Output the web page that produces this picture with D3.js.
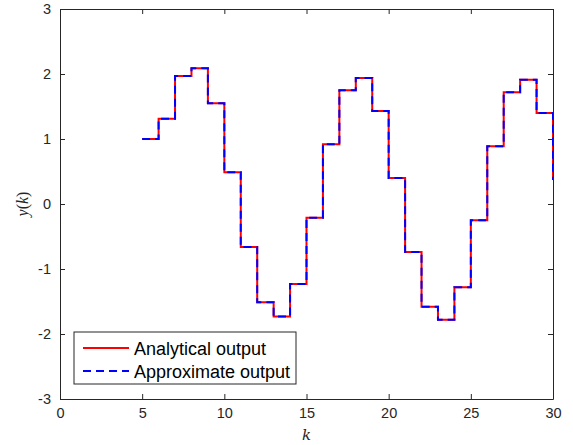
<!DOCTYPE html>
<html>
<head>
<meta charset="utf-8">
<script src="https://cdn.jsdelivr.net/npm/d3@7"></script>
<style>
body { margin: 0; background: #fff; }
text { font-family: "Liberation Sans", Arial, sans-serif; }
</style>
</head>
<body>
<script>
var w = 573;
var h = 445;
var margin = {left: 60, right: 20, top: 9, bottom: 46};

var kValues = [5, 6, 7, 8, 9, 10, 11, 12, 13, 14, 15, 16, 17, 18, 19, 20, 21, 22, 23, 24, 25, 26, 27, 28, 29, 30];
var analytical = [1.00, 1.31, 1.97, 2.09, 1.55, 0.49, -0.66, -1.51, -1.73, -1.23, -0.21, 0.92, 1.75, 1.94, 1.43, 0.40, -0.74, -1.58, -1.78, -1.28, -0.25, 0.89, 1.72, 1.91, 1.40, 0.37];
var approximate = [1.00, 1.31, 1.97, 2.09, 1.55, 0.49, -0.66, -1.51, -1.73, -1.23, -0.21, 0.92, 1.75, 1.94, 1.43, 0.40, -0.74, -1.58, -1.78, -1.28, -0.25, 0.89, 1.72, 1.91, 1.40, 0.37];
var xTicks = [0, 5, 10, 15, 20, 25, 30];
var yTicks = [-3, -2, -1, 0, 1, 2, 3];
var legendLabels = ['Analytical output', 'Approximate output'];

var svg = d3.select('body').append('svg').attr('width', w).attr('height', h);

var x = d3.scaleLinear().domain([0, 30]).range([margin.left, w - margin.right]);
var y = d3.scaleLinear().domain([-3, 3]).range([h - margin.bottom, margin.top]);

// stairs like matlab
function stairs(vals) {
  var pts = [];
  vals.forEach(function(v, i) {
    if (i > 0) pts.push([kValues[i], vals[i - 1]]);
    pts.push([kValues[i], v]);
  });
  return pts;
}
var line = d3.line().x(function(d) { return x(d[0]); }).y(function(d) { return y(d[1]); });

svg.append('path')
  .attr('d', line(stairs(analytical)))
  .attr('fill', 'none').attr('stroke', '#ff0000').attr('stroke-width', 2);
svg.append('path')
  .attr('d', line(stairs(approximate)))
  .attr('fill', 'none').attr('stroke', '#0000ff').attr('stroke-width', 2)
  .attr('stroke-dasharray', '8,5');

var axisColor = '#262626';
var fmt = function(d) { return String(d); };
function styleAxis(g) {
  g.select('.domain').attr('stroke', axisColor);
  g.selectAll('.tick line').attr('stroke', axisColor);
  g.selectAll('.tick text').attr('fill', axisColor).attr('font-size', 14.5)
    .attr('font-family', '"Liberation Sans", Arial, sans-serif');
}

svg.append('g')
  .attr('transform', 'translate(0,' + (h - margin.bottom) + ')')
  .call(d3.axisBottom(x).tickValues(xTicks).tickFormat(fmt).tickSizeInner(-5).tickSizeOuter(0).tickPadding(9))
  .call(styleAxis);
svg.append('g')
  .attr('transform', 'translate(' + margin.left + ',0)')
  .call(d3.axisLeft(y).tickValues(yTicks).tickFormat(fmt).tickSizeInner(-5).tickSizeOuter(0).tickPadding(9))
  .call(styleAxis);
svg.append('g')
  .attr('transform', 'translate(0,' + margin.top + ')')
  .call(d3.axisTop(x).tickValues(xTicks).tickSizeInner(-5).tickSizeOuter(0).tickFormat(''))
  .call(styleAxis);
svg.append('g')
  .attr('transform', 'translate(' + (w - margin.right) + ',0)')
  .call(d3.axisRight(y).tickValues(yTicks).tickSizeInner(-5).tickSizeOuter(0).tickFormat(''))
  .call(styleAxis);

// axis labels
svg.append('text')
  .attr('x', (x(0) + x(30)) / 2).attr('y', 440)
  .attr('text-anchor', 'middle')
  .style('font-family', '"DejaVu Serif", "Liberation Serif", serif')
  .style('font-style', 'italic').attr('font-size', 15).attr('fill', axisColor)
  .text('k');
var yl = svg.append('text')
  .attr('transform', 'translate(28,' + y(0) + ') rotate(-90)')
  .attr('text-anchor', 'middle')
  .style('font-family', '"Liberation Serif", "DejaVu Serif", serif')
  .attr('font-size', 16).attr('fill', axisColor);
yl.append('tspan').style('font-style', 'italic').text('y');
yl.append('tspan').text('(');
yl.append('tspan').style('font-style', 'italic').text('k');
yl.append('tspan').text(')');

// legend
var lg = svg.append('g');
lg.append('rect')
  .attr('x', 74).attr('y', 332).attr('width', 222).attr('height', 52)
  .attr('fill', '#fff').attr('stroke', axisColor).attr('stroke-width', 1);
var styles = [{c: '#ff0000', dash: null}, {c: '#0000ff', dash: '8,5'}];
legendLabels.forEach(function(lab, i) {
  var ly = 348 + i * 23;
  lg.append('line')
    .attr('x1', 83).attr('x2', 129).attr('y1', ly).attr('y2', ly)
    .attr('stroke', styles[i].c).attr('stroke-width', 2)
    .attr('stroke-dasharray', styles[i].dash);
  lg.append('text')
    .attr('x', 134).attr('y', ly + 6.5)
    .attr('font-size', 18).attr('fill', '#000')
    .text(lab);
});
</script>
</body>
</html>
